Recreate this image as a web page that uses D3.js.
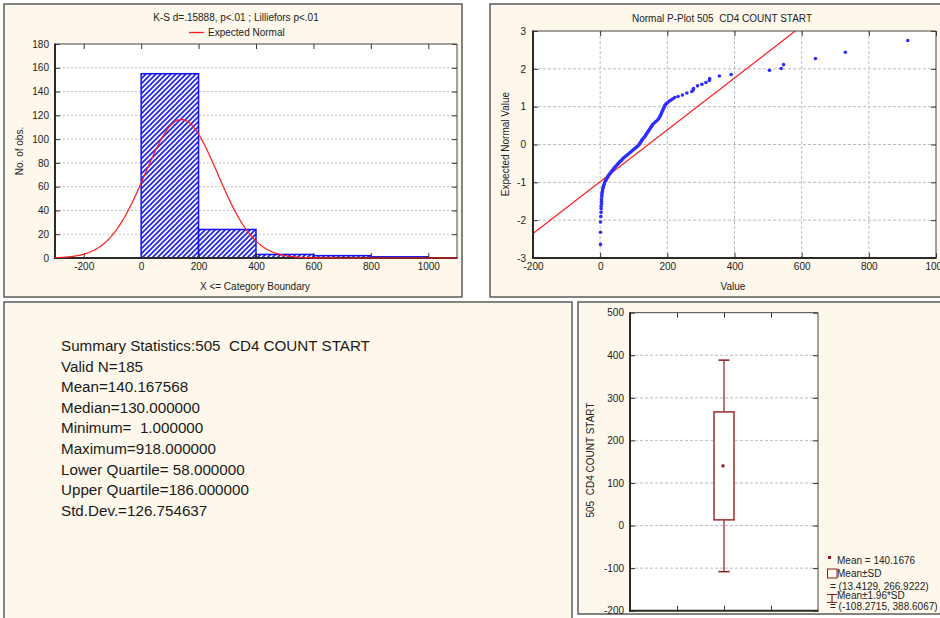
<!DOCTYPE html>
<html><head><meta charset="utf-8">
<script src="https://cdn.jsdelivr.net/npm/d3@7"></script>
<style>
body{margin:0;background:#fff;}
svg{display:block;font-family:"Liberation Sans",Arial,sans-serif;}
text{white-space:pre;}
</style></head><body>
<svg id="c" width="940" height="618"></svg>
<script>
// ---------------- DATA ----------------
// Histogram
const binEdges = [0, 200, 400, 600, 800, 1000];
const binCounts = [155, 24, 3, 2, 1];
const histXTicks = [-200, 0, 200, 400, 600, 800, 1000];
const histYTicks = [0, 20, 40, 60, 80, 100, 120, 140, 160, 180];
const histTitle = "K-S d=.15888, p<.01 ; Lilliefors p<.01";
const histLegend = "Expected Normal";
const histXLabel = "X <= Category Boundary";
const histYLabel = "No. of obs.";
const sampleN = 185;
const sampleMean = 140.167568;
const sampleSd = 126.754637;
const binWidth = 200;

// Normal probability plot (observed value, expected normal value)
const ppValues = [1,1,1,2,3,3,3,4,4,4,5,5,6,7,8,9,10,12,13,15,17,19,21,23,25,27,30,32,35,38,40,43,46,49,52,55,58,62,65,68,72,76,80,84,88,92,96,100,104,108,112,115,118,120,122,124,126,129,132,135,138,141,144,147,150,153,156,160,165,170,174,177,179,181,183,185,187,189,191,193,196,200,205,210,215,222,232,245,258,273,277,278,290,303,315,325,326,355,390,504,539,546,641,730,916];
const ppZ = [-2.64,-2.32,-2.05,-1.90,-1.79,-1.70,-1.63,-1.56,-1.50,-1.44,-1.37,-1.32,-1.27,-1.22,-1.17,-1.13,-1.09,-1.05,-1.01,-0.97,-0.94,-0.91,-0.88,-0.85,-0.82,-0.79,-0.76,-0.73,-0.70,-0.67,-0.64,-0.61,-0.58,-0.55,-0.52,-0.49,-0.46,-0.43,-0.40,-0.37,-0.34,-0.31,-0.28,-0.25,-0.22,-0.19,-0.16,-0.13,-0.10,-0.07,-0.04,-0.01,0.02,0.05,0.08,0.11,0.14,0.17,0.20,0.24,0.28,0.32,0.36,0.40,0.44,0.48,0.52,0.56,0.60,0.64,0.68,0.72,0.76,0.80,0.84,0.88,0.92,0.96,1.00,1.04,1.07,1.10,1.14,1.17,1.20,1.24,1.27,1.31,1.36,1.40,1.44,1.48,1.55,1.59,1.64,1.69,1.74,1.81,1.85,1.96,2.01,2.11,2.27,2.44,2.75];
const ppLineX = [-200, 581];
const ppLineZ = [-2.35, 3];
const ppXTicks = [-200, 0, 200, 400, 600, 800, 1000];
const ppYTicks = [-3, -2, -1, 0, 1, 2, 3];
const ppTitle = "Normal P-Plot 505  CD4 COUNT START";
const ppXLabel = "Value";
const ppYLabel = "Expected Normal Value";

// Summary statistics
const summaryLines = [
  "Summary Statistics:505  CD4 COUNT START",
  "Valid N=185",
  "Mean=140.167568",
  "Median=130.000000",
  "Minimum=  1.000000",
  "Maximum=918.000000",
  "Lower Quartile= 58.000000",
  "Upper Quartile=186.000000",
  "Std.Dev.=126.754637"
];

// Box plot (mean, mean±SD, mean±1.96*SD)
const boxMean = 140.1676;
const boxSdRange = [13.4129, 266.9222];
const boxCiRange = [-108.2715, 388.6067];
const boxYTicks = [-200, -100, 0, 100, 200, 300, 400, 500];
const boxYLabel = "505  CD4 COUNT START";
const boxLegend = ["Mean = 140.1676", "Mean\u00b1SD", "= (13.4129, 266.9222)", "Mean\u00b11.96*SD", "= (-108.2715, 388.6067)"];

// ---------------- DRAW ----------------
const svg = d3.select("#c");
const CREAM = "#FDF8EB";
const DARK = "#2a2a2a";
const fmt = d => String(d);
const defs = svg.append("defs");

const pat = defs.append("pattern").attr("id", "hatch").attr("patternUnits", "userSpaceOnUse")
  .attr("width", 5).attr("height", 5);
pat.append("rect").attr("width", 5).attr("height", 5).attr("fill", "#ffffff");
pat.append("path").attr("d", "M-1,1 L1,-1 M0,5 L5,0 M4,6 L6,4")
  .attr("stroke", "#2a2ae8").attr("stroke-width", 1.9);

function panel(x, y, w, h) {
  svg.append("rect").attr("x", x).attr("y", y).attr("width", w).attr("height", h)
    .attr("fill", CREAM).attr("stroke", "#5c5c5c").attr("stroke-width", 1.5);
}
panel(4, 4, 458, 293);
panel(490, 4, 470, 293);
panel(4, 302, 568, 318);
panel(578, 302, 380, 312);

function styleAxis(g, size) {
  g.select(".domain").remove();
  g.selectAll(".tick line").attr("stroke", "#333").attr("stroke-width", 1);
  g.selectAll("text").attr("font-size", size || 10).attr("fill", "#222")
    .attr("font-family", '"Liberation Sans", Arial, sans-serif');
}
function frame(x0, x1, y0, y1) {
  svg.append("line").attr("x1", x0).attr("x2", x1).attr("y1", y0).attr("y2", y0).attr("stroke", "#444").attr("stroke-width", 1);
  svg.append("line").attr("x1", x1).attr("x2", x1).attr("y1", y0).attr("y2", y1).attr("stroke", "#444").attr("stroke-width", 1);
  svg.append("line").attr("x1", x0).attr("x2", x0).attr("y1", y0 - 0.5).attr("y2", y1 + 1).attr("stroke", DARK).attr("stroke-width", 2);
  svg.append("line").attr("x1", x0 - 1).attr("x2", x1 + 0.5).attr("y1", y1).attr("y2", y1).attr("stroke", DARK).attr("stroke-width", 2);
}
function txt(x, y, s, size, anchor, rot) {
  const t = svg.append("text").attr("x", x).attr("y", y).text(s)
    .attr("font-size", size).attr("fill", "#222").attr("text-anchor", anchor || "start");
  if (rot) t.attr("transform", `rotate(${rot},${x},${y})`);
  return t;
}

// ===== Histogram =====
{
  const x = d3.scaleLinear([-300, 1100], [55, 457]);
  const y = d3.scaleLinear([0, 180], [258, 44]);
  svg.append("rect").attr("x", 55).attr("y", 44).attr("width", 402).attr("height", 214).attr("fill", "#fff");
  svg.append("g").selectAll("line").data(histYTicks.slice(1, -1)).join("line")
    .attr("x1", 55).attr("x2", 457).attr("y1", d => y(d)).attr("y2", d => y(d))
    .attr("stroke", "#bdbdbd").attr("stroke-dasharray", "2,2");
  svg.append("g").selectAll("rect").data(binCounts).join("rect")
    .attr("x", (d, i) => x(binEdges[i])).attr("width", (d, i) => x(binEdges[i + 1]) - x(binEdges[i]))
    .attr("y", d => y(d)).attr("height", d => y(0) - y(d))
    .attr("fill", "url(#hatch)").attr("stroke", "#1414f0").attr("stroke-width", 1.5);

  styleAxis(svg.append("g").attr("transform", "translate(55,0)").call(d3.axisLeft(y).tickValues(histYTicks).tickFormat(fmt).tickSize(-5).tickSizeOuter(0).tickPadding(6)));
  styleAxis(svg.append("g").attr("transform", "translate(457,0)").call(d3.axisRight(y).tickValues(histYTicks).tickSize(-5).tickSizeOuter(0).tickFormat("")));
  styleAxis(svg.append("g").attr("transform", "translate(0,258)").call(d3.axisBottom(x).tickValues(histXTicks).tickFormat(fmt).tickSize(-5).tickSizeOuter(0).tickPadding(5)));
  styleAxis(svg.append("g").attr("transform", "translate(0,44)").call(d3.axisTop(x).tickValues(histXTicks).tickSize(-5).tickSizeOuter(0).tickFormat("")));
  frame(55, 457, 44, 258);

  defs.append("clipPath").attr("id", "hclip").append("rect").attr("x", 55).attr("y", 44).attr("width", 402).attr("height", 216);
  const pdf = v => sampleN * binWidth * Math.exp(-0.5 * ((v - sampleMean) / sampleSd) ** 2) / (sampleSd * Math.sqrt(2 * Math.PI));
  const xs = d3.range(-300, 1101, 4);
  svg.append("path").datum(xs).attr("clip-path", "url(#hclip)")
    .attr("d", d3.line().x(d => x(d)).y(d => y(pdf(d))))
    .attr("fill", "none").attr("stroke", "#ff1a1a").attr("stroke-width", 1.2);

  txt(236, 21, histTitle, 10, "middle");
  svg.append("line").attr("x1", 189).attr("x2", 204).attr("y1", 32.5).attr("y2", 32.5).attr("stroke", "#ff1a1a").attr("stroke-width", 1.3);
  txt(208, 36, histLegend, 10);
  txt(255, 290, histXLabel, 10, "middle");
  txt(23, 151, histYLabel, 10, "middle", -90);
}

// ===== Normal P-Plot =====
{
  const x = d3.scaleLinear([-200, 1000], [533, 936]);
  const y = d3.scaleLinear([-3, 3], [258, 31]);
  svg.append("rect").attr("x", 533).attr("y", 31).attr("width", 403).attr("height", 227).attr("fill", "#fff");
  svg.append("g").selectAll("line").data(ppXTicks.slice(1, -1)).join("line")
    .attr("x1", d => x(d)).attr("x2", d => x(d)).attr("y1", 31).attr("y2", 258)
    .attr("stroke", "#bdbdbd").attr("stroke-dasharray", "3,2");
  svg.append("g").selectAll("line").data(ppYTicks.slice(1, -1)).join("line")
    .attr("x1", 533).attr("x2", 936).attr("y1", d => y(d)).attr("y2", d => y(d))
    .attr("stroke", "#bdbdbd").attr("stroke-dasharray", "3,2");

  defs.append("clipPath").attr("id", "pclip").append("rect").attr("x", 533).attr("y", 31).attr("width", 403).attr("height", 227);
  svg.append("path").datum(d3.zip(ppLineX, ppLineZ)).attr("clip-path", "url(#pclip)")
    .attr("d", d3.line().x(d => x(d[0])).y(d => y(d[1])))
    .attr("stroke", "#ff1a1a").attr("stroke-width", 1.2).attr("fill", "none");
  svg.append("g").selectAll("circle").data(d3.zip(ppValues, ppZ)).join("circle")
    .attr("cx", d => x(d[0])).attr("cy", d => y(d[1])).attr("r", 1.8)
    .attr("fill", "#2d2dff");

  styleAxis(svg.append("g").attr("transform", "translate(533,0)").call(d3.axisLeft(y).tickValues(ppYTicks).tickFormat(fmt).tickSize(-5).tickSizeOuter(0).tickPadding(7)));
  styleAxis(svg.append("g").attr("transform", "translate(936,0)").call(d3.axisRight(y).tickValues(ppYTicks).tickSize(-5).tickSizeOuter(0).tickFormat("")));
  styleAxis(svg.append("g").attr("transform", "translate(0,258)").call(d3.axisBottom(x).tickValues(ppXTicks).tickFormat(fmt).tickSize(-5).tickSizeOuter(0).tickPadding(5)));
  styleAxis(svg.append("g").attr("transform", "translate(0,31)").call(d3.axisTop(x).tickValues(ppXTicks).tickSize(-5).tickSizeOuter(0).tickFormat("")));
  frame(533, 936, 31, 258);

  txt(722, 21.5, ppTitle, 10, "middle");
  txt(733, 290, ppXLabel, 10, "middle");
  txt(509, 144, ppYLabel, 10, "middle", -90);
}

// ===== Summary statistics =====
svg.append("g").selectAll("text").data(summaryLines).join("text")
  .attr("x", 61).attr("y", (d, i) => 351 + i * 20.6).text(d => d)
  .attr("font-size", 15.2).attr("fill", "#1a1a1a");

// ===== Box plot =====
{
  const x = d3.scaleLinear([0, 4], [630, 818]);
  const y = d3.scaleLinear([-200, 500], [610.7, 312.7]);
  const MAR = "#8c1c1c";
  svg.append("rect").attr("x", 630).attr("y", 312.7).attr("width", 188).attr("height", 298).attr("fill", "#fff");
  svg.append("g").selectAll("line").data(boxYTicks.slice(1, -1)).join("line")
    .attr("x1", 630).attr("x2", 818).attr("y1", d => y(d)).attr("y2", d => y(d))
    .attr("stroke", "#bdbdbd").attr("stroke-dasharray", "3,2");

  const cx = x(2);
  svg.append("line").attr("x1", cx).attr("x2", cx).attr("y1", y(boxCiRange[1])).attr("y2", y(boxCiRange[0]))
    .attr("stroke", MAR).attr("stroke-width", 1.2);
  svg.append("g").selectAll("line").data(boxCiRange).join("line")
    .attr("x1", cx - 5.5).attr("x2", cx + 5.5).attr("y1", d => y(d)).attr("y2", d => y(d))
    .attr("stroke", MAR).attr("stroke-width", 1.5);
  svg.append("rect").attr("x", cx - 10).attr("width", 20)
    .attr("y", y(boxSdRange[1])).attr("height", y(boxSdRange[0]) - y(boxSdRange[1]))
    .attr("fill", "#fff").attr("stroke", "#a53a3a").attr("stroke-width", 1.6);
  svg.append("rect").attr("x", cx - 2.5).attr("y", y(boxMean) - 1.5).attr("width", 3).attr("height", 3).attr("fill", MAR);

  styleAxis(svg.append("g").attr("transform", "translate(630,0)").call(d3.axisLeft(y).tickValues(boxYTicks).tickFormat(fmt).tickSize(-5).tickSizeOuter(0).tickPadding(6)));
  styleAxis(svg.append("g").attr("transform", "translate(818,0)").call(d3.axisRight(y).tickValues(boxYTicks).tickSize(-5).tickSizeOuter(0).tickFormat("")));
  styleAxis(svg.append("g").attr("transform", "translate(0,610.7)").call(d3.axisBottom(x).tickValues([1, 2, 3]).tickSize(-5).tickSizeOuter(0).tickFormat("")));
  styleAxis(svg.append("g").attr("transform", "translate(0,312.7)").call(d3.axisTop(x).tickValues([1, 2, 3]).tickSize(-5).tickSizeOuter(0).tickFormat("")));
  frame(630, 818, 312.7, 610.7);

  txt(594, 460, boxYLabel, 10, "middle", -90);

  // legend
  svg.append("rect").attr("x", 828).attr("y", 556).attr("width", 3).attr("height", 3).attr("fill", MAR);
  txt(837, 564, boxLegend[0], 10);
  svg.append("rect").attr("x", 827.5).attr("y", 569).attr("width", 9.5).attr("height", 9).attr("fill", "none").attr("stroke", MAR).attr("stroke-width", 1);
  txt(837, 577, boxLegend[1], 10);
  txt(830, 589.5, boxLegend[2], 10);
  svg.append("path").attr("d", "M827,594.5H837M832,594.5V602.5M827,602.5H837").attr("stroke", MAR).attr("stroke-width", 1.2).attr("fill", "none");
  txt(837, 599, boxLegend[3], 10);
  txt(830, 609.5, boxLegend[4], 10);
}
</script>
</body></html>
